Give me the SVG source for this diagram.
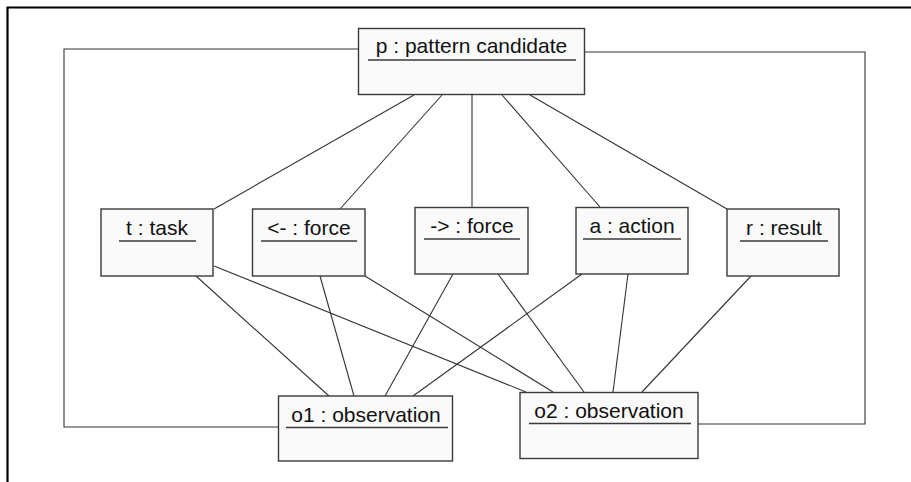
<svg xmlns="http://www.w3.org/2000/svg" width="911" height="482" viewBox="0 0 911 482">
  <style>
    .frame { fill: none; stroke: #000; stroke-width: 2.2; }
    .obj { fill: #fafafa; stroke: #3a3a3a; stroke-width: 1.4; }
    .name { font-family: "Liberation Sans", Arial, sans-serif; font-size: 21px; fill: #111; text-anchor: middle; }
    .ul { stroke: #3a3a3a; stroke-width: 1.4; }
    .link { fill: none; stroke: #333; stroke-width: 1.1; }
  </style>
  <rect width="911" height="482" fill="#fff"/>
  <!-- diagram frame -->
  <path class="frame" d="M7.5 482 V7.5 H911"/>

  <g id="connectors">
    <!-- outer links around the diagram -->
    <polyline class="link" points="358,49 64,49 64,427 278,427"/>
    <polyline class="link" points="584,52 865,52 865,424 698,424"/>
    <!-- pattern candidate to its parts -->
    <line class="link" x1="414" y1="95" x2="214" y2="209"/>
    <line class="link" x1="442" y1="95" x2="340" y2="209"/>
    <line class="link" x1="472" y1="94" x2="472" y2="207"/>
    <line class="link" x1="502" y1="95" x2="600" y2="207"/>
    <line class="link" x1="530" y1="95" x2="727" y2="209"/>
    <!-- parts to o1 -->
    <line class="link" x1="196" y1="276" x2="329" y2="396"/>
    <line class="link" x1="320" y1="276" x2="354" y2="396"/>
    <line class="link" x1="453" y1="274" x2="385" y2="396"/>
    <line class="link" x1="582" y1="274" x2="413" y2="396"/>
    <!-- parts to o2 -->
    <line class="link" x1="214" y1="266" x2="526" y2="392"/>
    <line class="link" x1="365" y1="276" x2="553" y2="392"/>
    <line class="link" x1="498" y1="274" x2="584" y2="392"/>
    <line class="link" x1="628" y1="274" x2="613" y2="392"/>
    <line class="link" x1="751" y1="276" x2="642" y2="392"/>
  </g>

  <g id="p">
    <rect class="obj" x="358.5" y="28.5" width="226" height="66"/>
    <text class="name" x="471.5" y="53">p : pattern candidate</text>
    <line class="ul" x1="368" y1="60" x2="576" y2="60"/>
  </g>
  <g id="t">
    <rect class="obj" x="101" y="209" width="112" height="67"/>
    <text class="name" x="157" y="235">t : task</text>
    <line class="ul" x1="119" y1="241" x2="196" y2="241"/>
  </g>
  <g id="force-in">
    <rect class="obj" x="252.5" y="209" width="112.5" height="67"/>
    <text class="name" x="309" y="235">&lt;- : force</text>
    <line class="ul" x1="261" y1="241" x2="357" y2="241"/>
  </g>
  <g id="force-out">
    <rect class="obj" x="415" y="207.5" width="113" height="66.5"/>
    <text class="name" x="472" y="233">-&gt; : force</text>
    <line class="ul" x1="424" y1="239" x2="520" y2="239"/>
  </g>
  <g id="a">
    <rect class="obj" x="576" y="207.5" width="112" height="66.5"/>
    <text class="name" x="632" y="233">a : action</text>
    <line class="ul" x1="583" y1="239" x2="681" y2="239"/>
  </g>
  <g id="r">
    <rect class="obj" x="727" y="209" width="112" height="67"/>
    <text class="name" x="784" y="235">r : result</text>
    <line class="ul" x1="740" y1="241" x2="828" y2="241"/>
  </g>
  <g id="o1">
    <rect class="obj" x="278.5" y="396" width="174" height="65"/>
    <text class="name" x="366" y="421.5">o1 : observation</text>
    <line class="ul" x1="286" y1="427.5" x2="448" y2="427.5"/>
  </g>
  <g id="o2">
    <rect class="obj" x="520" y="392.5" width="178" height="66"/>
    <text class="name" x="609" y="418">o2 : observation</text>
    <line class="ul" x1="529" y1="423.5" x2="691" y2="423.5"/>
  </g>
</svg>
